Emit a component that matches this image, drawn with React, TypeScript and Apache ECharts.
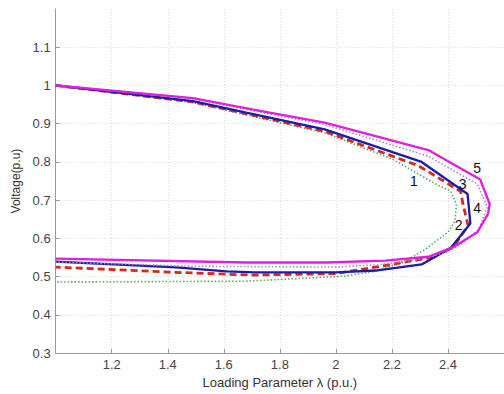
import React, { useEffect, useRef } from "react";
import * as echarts from "echarts";

// Curve data: [loading parameter λ (p.u.), voltage (p.u.)], traced upper branch -> nose -> lower branch
const curve1 = [
  [1.0, 1.0], [1.49, 0.955], [1.71, 0.918], [1.96, 0.876], [2.2, 0.808], [2.352, 0.744],
  [2.41, 0.723], [2.43, 0.69], [2.425, 0.645], [2.4, 0.616], [2.316, 0.57], [2.246, 0.539],
  [2.14, 0.514], [2.027, 0.501], [1.678, 0.488], [1.0, 0.486],
];
const curve2 = [
  [1.0, 1.0], [1.49, 0.957], [1.71, 0.921], [1.96, 0.88], [2.295, 0.79], [2.445, 0.723],
  [2.455, 0.685], [2.472, 0.634], [2.42, 0.578], [2.34, 0.55], [2.2, 0.532], [2.0, 0.508],
  [1.7, 0.504], [1.4, 0.512], [1.0, 0.525],
];
const curve3 = [
  [1.0, 1.0], [1.49, 0.959], [1.68, 0.929], [1.96, 0.885], [2.306, 0.8], [2.47, 0.716],
  [2.48, 0.639], [2.41, 0.575], [2.306, 0.532], [2.142, 0.516], [2.0, 0.511], [1.71, 0.511],
  [1.61, 0.514], [1.43, 0.524], [1.0, 0.539],
];
const curve4 = [
  [1.0, 1.0], [1.49, 0.965], [1.71, 0.933], [1.96, 0.898], [2.33, 0.815], [2.505, 0.742],
  [2.54, 0.682], [2.51, 0.624], [2.46, 0.592], [2.4, 0.565], [2.3, 0.545], [2.15, 0.531],
  [2.0, 0.525], [1.5, 0.527], [1.0, 0.538],
];
const curve5 = [
  [1.0, 1.0], [1.49, 0.967], [1.71, 0.936], [1.96, 0.903], [2.33, 0.831], [2.515, 0.754],
  [2.549, 0.69], [2.543, 0.664], [2.505, 0.616], [2.421, 0.578], [2.33, 0.552], [2.177, 0.542],
  [1.967, 0.537], [1.678, 0.537], [1.0, 0.547],
];

const curveLabelNames = ["1", "2", "3", "4", "5"];
const curveLabelPos = [
  [2.278, 0.749], [2.438, 0.634], [2.452, 0.741], [2.504, 0.68], [2.504, 0.785],
];

const xName = "Loading Parameter λ (p.u.)";
const yName = "Voltage(p.u)";

const FONT = "'Liberation Sans', Arial, sans-serif";

export default function App() {
  const ref = useRef<HTMLDivElement>(null);
  useEffect(() => {
    if (!ref.current) return;
    const chart = echarts.init(ref.current, null, { renderer: "svg" });
    const line = (name: string, data: number[][], color: string, width: number, type: any, z: number) => ({
      name,
      type: "line",
      data,
      showSymbol: false,
      symbol: "none",
      z,
      lineStyle: { color, width, type, cap: "butt" },
    });
    chart.setOption({
      animation: false,
      backgroundColor: "#ffffff",
      textStyle: { fontFamily: FONT },
      grid: { left: 55.7, top: 9, width: 458.7, height: 351.5, containLabel: false },
      xAxis: {
        type: "value",
        min: 1.0,
        max: 2.6,
        interval: 0.2,
        name: xName,
        nameLocation: "middle",
        nameGap: 20,
        nameTextStyle: { fontSize: 13, color: "#333", fontFamily: FONT },
        axisLine: { show: true, lineStyle: { color: "#999", width: 1 } },
        axisTick: { show: true, inside: true, length: 4, lineStyle: { color: "#999" } },
        axisLabel: {
          showMinLabel: false,
          showMaxLabel: false,
          fontSize: 13,
          color: "#444",
          margin: 5,
          fontFamily: FONT,
        },
        splitLine: {
          show: true,
          showMinLine: false,
          lineStyle: { color: "#d8d8d8", type: [1, 2], width: 1 },
        },
      },
      yAxis: {
        type: "value",
        min: 0.3,
        max: 1.2,
        interval: 0.1,
        name: yName,
        nameLocation: "middle",
        nameGap: 30,
        nameTextStyle: { fontSize: 12, color: "#333", fontFamily: FONT },
        axisLine: { show: true, lineStyle: { color: "#999", width: 1 } },
        axisTick: { show: true, inside: true, length: 4, lineStyle: { color: "#999" } },
        axisLabel: {
          showMaxLabel: false,
          fontSize: 13,
          color: "#444",
          margin: 5,
          fontFamily: FONT,
        },
        splitLine: {
          show: true,
          showMinLine: false,
          showMaxLine: false,
          lineStyle: { color: "#d8d8d8", type: [1, 2], width: 1 },
        },
      },
      series: [
        line("1", curve1, "#5fa85f", 1.6, [1.5, 2], 3),
        line("2", curve2, "#d42a1e", 2.8, [7, 4], 4),
        line("3", curve3, "#1c1ca8", 2.3, "solid", 5),
        line("4", curve4, "#a788c0", 1.6, [1.5, 2], 6),
        line("5", curve5, "#e01ee0", 2.3, "solid", 7),
      ],
    });
    // Curve number annotations, positioned through the chart's own scales
    const graphic = curveLabelPos.map((p, i) => {
      const px = chart.convertToPixel({ gridIndex: 0 }, p) as number[];
      return {
        type: "text",
        x: px[0],
        y: px[1],
        z: 100,
        silent: true,
        style: {
          text: curveLabelNames[i],
          fill: "#111111",
          fontSize: 14,
          fontFamily: FONT,
          align: "center",
          verticalAlign: "middle",
        },
      };
    });
    chart.setOption({ graphic });
    return () => chart.dispose();
  }, []);
  return (
    <div
      ref={ref}
      style={{ position: "absolute", left: 0, top: 0, width: 504, height: 394, overflow: "hidden", background: "#fff" }}
    />
  );
}
